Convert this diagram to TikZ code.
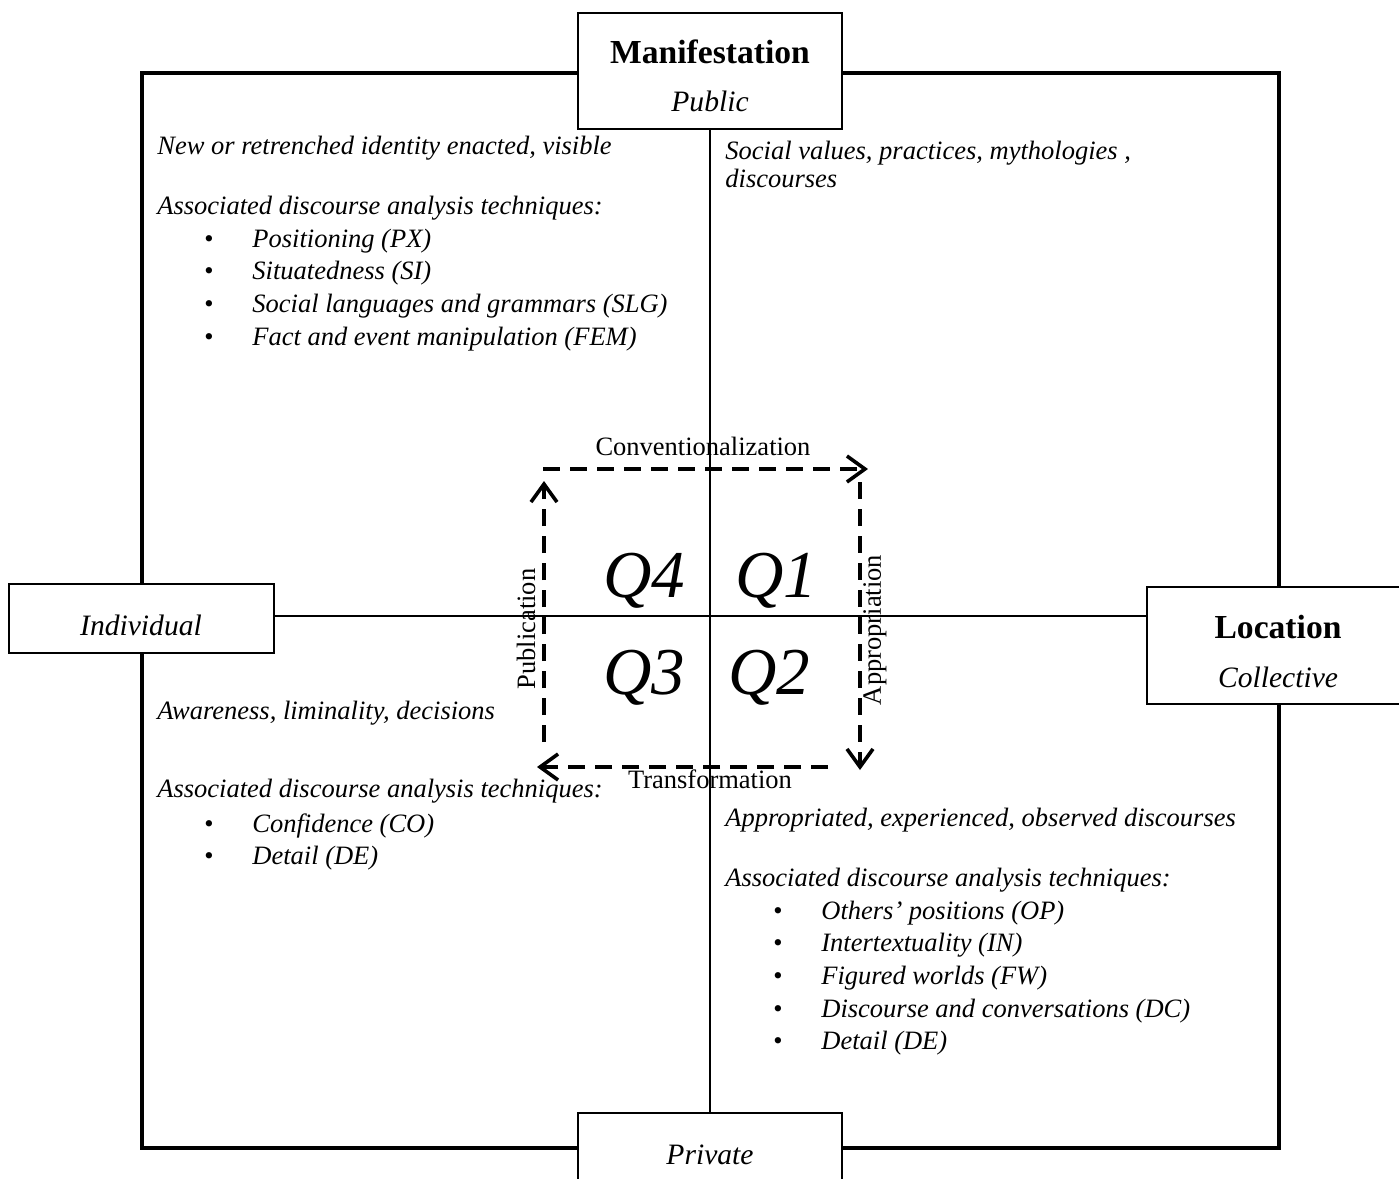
\documentclass[tikz,border=0pt]{standalone}
\usepackage{fontspec}
\setmainfont{Liberation Serif}
\usetikzlibrary{arrows.meta}

\begin{document}
\begin{tikzpicture}[x=0.5pt,y=-0.5pt,
  frame/.style={line width=2pt},
  axisbox/.style={draw, line width=0.9pt, fill=white, inner sep=0},
  axisline/.style={line width=0.9pt},
  flow/.style={line width=1.6pt, dash pattern=on 8.5pt off 5pt,
    -{Straight Barb[length=9pt,width=13pt,line width=1.8pt]}},
  boxtitle/.style={inner sep=0, font=\fontsize{16.8pt}{20pt}\selectfont\bfseries},
  boxsub/.style={inner sep=0, font=\fontsize{14.8pt}{18pt}\selectfont\itshape},
  note/.style={anchor=base west, inner sep=0, font=\fontsize{13.25pt}{15pt}\selectfont\itshape},
  item/.style={anchor=base west, inner sep=0, font=\fontsize{13.25pt}{15pt}\selectfont\itshape},
  dot/.style={anchor=base, inner sep=0, font=\fontsize{13.25pt}{15pt}\selectfont},
  flowlabel/.style={inner sep=0, font=\fontsize{13.25pt}{15pt}\selectfont},
  quad/.style={anchor=base, inner sep=0, font=\fontsize{33.5pt}{38pt}\selectfont\itshape}]
\useasboundingbox (0,0) rectangle (1399,1179);

% outer frame
\draw[frame] (142,73) rectangle (1279,1148);

% axis boxes
\node[axisbox, minimum width=132pt, minimum height=58pt] (mtop) at (710,71) {};
\node[axisbox, minimum width=132.5pt, minimum height=34.5pt] (mleft) at (141.5,618.5) {};
\node[axisbox, minimum width=132pt, minimum height=58.5pt] (mright) at (1279,645.5) {};
\node[axisbox, minimum width=132pt, minimum height=58pt] (mbottom) at (710,1171) {};

\node[boxtitle] (ttop) at (710,52) {Manifestation};
\node[boxsub] (stop) at (710,101) {Public};
\node[boxsub] (sleft) at (141,625) {Individual};
\node[boxtitle] (tright) at (1278,627) {Location};
\node[boxsub] (sright) at (1278,677) {Collective};
\node[boxsub] (sbottom) at (710,1155) {Private};

% axes
\coordinate (hub) at (710,616);
\draw[axisline] (hub |- mtop.south) -- (hub |- mbottom.north);
\draw[axisline] (hub -| mleft.east) -- (hub -| mright.west);

% quadrant 4 (top left)
\node[note] (q4a) at (157,154) {New or retrenched identity enacted, visible};
\node[note] (q4b) at (157,214) {Associated discourse analysis techniques:};
\foreach \y/\t [count=\i] in {247/Positioning (PX), 279/Situatedness (SI),
    312/Social languages and grammars (SLG), 345/Fact and event manipulation (FEM)} {
  \node[dot] (q4d\i) at (209,\y) {\textbullet};
  \node[item] (q4i\i) at (252,\y) {\t};
}

% quadrant 1 (top right)
\node[note] (q1a) at (725,159) {Social values, practices, mythologies ,};
\node[note] (q1b) at (725,187) {discourses};

% quadrant 3 (bottom left)
\node[note] (q3a) at (157,719) {Awareness, liminality, decisions};
\node[note] (q3b) at (157,797) {Associated discourse analysis techniques:};
\foreach \y/\t [count=\i] in {832/Confidence (CO), 864/Detail (DE)} {
  \node[dot] (q3d\i) at (209,\y) {\textbullet};
  \node[item] (q3i\i) at (252,\y) {\t};
}

% quadrant 2 (bottom right)
\node[note] (q2a) at (725,826) {Appropriated, experienced, observed discourses};
\node[note] (q2b) at (725,886) {Associated discourse analysis techniques:};
\foreach \y/\t [count=\i] in {919/Others’ positions (OP), 951/Intertextuality (IN),
    984/Figured worlds (FW), 1017/Discourse and conversations (DC), 1049/Detail (DE)} {
  \node[dot] (q2d\i) at (778,\y) {\textbullet};
  \node[item] (q2i\i) at (821,\y) {\t};
}

% quadrant labels
\node[quad] (lq4) at (644,597) {Q4};
\node[quad] (lq1) at (776,597) {Q1};
\node[quad] (lq3) at (644,694) {Q3};
\node[quad] (lq2) at (769,694) {Q2};

% cycle of movements
\coordinate (ctl) at (543,469);
\coordinate (ctr) at (868,469);
\coordinate (crt) at (860,482);
\coordinate (crb) at (860,770);
\coordinate (cbr) at (828,767);
\coordinate (cbl) at (537,767);
\coordinate (clb) at (544,742);
\coordinate (clt) at (544,481);
\draw[flow] (ctl) -- (ctr);
\draw[flow] (crt) -- (crb);
\draw[flow] (cbr) -- (cbl);
\draw[flow] (clb) -- (clt);

\node[flowlabel] (fconv) at (703,446) {Conventionalization};
\node[flowlabel] (ftrans) at (710,779) {Transformation};
\node[flowlabel, rotate=90] (fpub) at (526,629) {Publication};
\node[flowlabel, rotate=90] (fapp) at (875,630) {Appropriation};
\end{tikzpicture}
\end{document}
